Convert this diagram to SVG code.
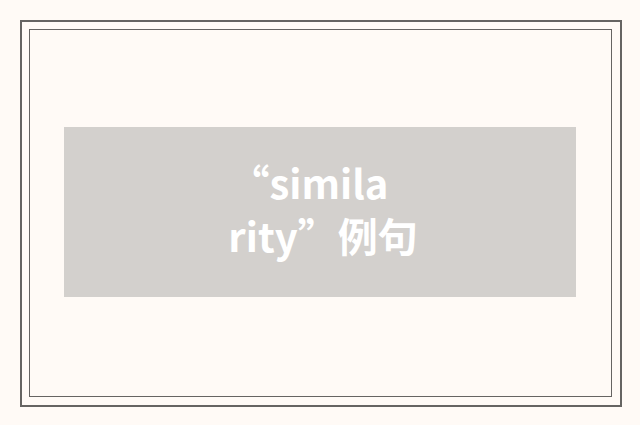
<svg xmlns="http://www.w3.org/2000/svg" width="640" height="425" viewBox="0 0 640 425">
<style>
.t{font-family:"Noto Sans CJK SC","Noto Sans",sans-serif;font-weight:700;font-size:40px;fill:#ffffff;text-anchor:middle}
</style>
<rect x="0" y="0" width="640" height="425" fill="#fffaf6"/>
<rect x="21" y="21" width="600" height="385" fill="none" stroke="#666462" stroke-width="2"/>
<rect x="29.5" y="29.5" width="582" height="367" fill="none" stroke="#666462" stroke-width="1"/>
<g id="banner">
<rect x="64" y="127" width="512" height="170" fill="#d3d0cd"/>
<text class="t" x="309" y="198.5">“simila</text>
<text class="t" x="323" y="251.5">rity”例句</text>
</g>
</svg>
